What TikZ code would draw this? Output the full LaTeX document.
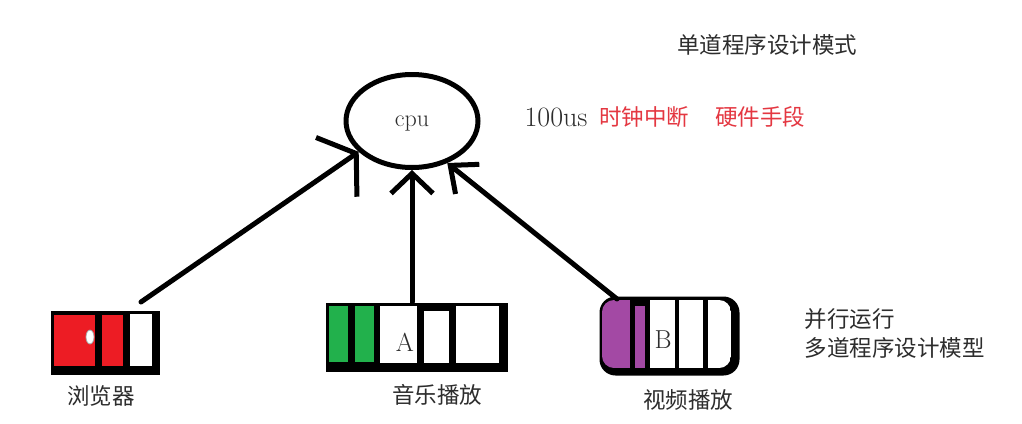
\documentclass[tikz,border=0pt]{standalone}
\usepackage{fontspec}
\newfontfamily\cjk{Noto Sans CJK SC}
\usetikzlibrary{shapes.geometric,arrows.meta}
\definecolor{cellred}{RGB}{237,28,36}
\definecolor{cellgreen}{RGB}{34,177,76}
\definecolor{cellpurple}{RGB}{163,73,164}
\definecolor{notered}{RGB}{228,55,65}
\definecolor{txtgray}{RGB}{45,45,45}

\begin{document}
\begin{tikzpicture}[
    x=1pt, y=-1pt,
    line width=5pt, line cap=round, line join=round,
    zh/.style={font=\cjk\fontsize{22.5}{26}\selectfont, text=txtgray, inner sep=0pt},
    en/.style={font=\fontsize{26}{30}\selectfont, text=txtgray, inner sep=0pt},
    procbox/.style={fill=black, rectangle, inner sep=0pt, anchor=north west},
    feed/.style={-{Straight Barb[length=20pt,width=42pt]}},
]
  \useasboundingbox[fill=white] (0,0) rectangle (1022,423);

  % cpu
  \node[draw, ellipse, minimum width=132pt, minimum height=93pt, inner sep=0pt] (cpu) at (412,121) {};
  \node[en, font=\fontsize{24}{28}\selectfont] (cpulbl) at (412,124) {cpu};

  % browser
  \node[procbox, minimum width=109pt, minimum height=64pt] (browser) at (48,308) {};
  \fill[cellred] (54,315) rectangle (95,366);
  \fill[cellred] (102,315) rectangle (123,366);
  \fill[white] (130,314) rectangle (152,366);
  \filldraw[white, draw=gray!70, line width=0.8pt] (90,337) ellipse [x radius=4, y radius=7];

  % music
  \node[procbox, minimum width=182pt, minimum height=69pt] (music) at (323,300) {};
  \fill[cellgreen] (329,306) rectangle (348,362);
  \fill[cellgreen] (355,306) rectangle (374,362);
  \fill[white] (380,306) rectangle (417,363);
  \fill[white] (424,311) rectangle (449,363);
  \fill[white] (456,306) rectangle (499,363);
  \node[en] (lblA) at (405,342) {A};

  % video
  \node[procbox, rounded corners=16pt, minimum width=140pt, minimum height=79pt] (video) at (597,294) {};
  \begin{scope}
    \clip[rounded corners=12pt] (602,300) rectangle (731,368);
    \fill[cellpurple] (602,300) rectangle (630,368);
    \fill[cellpurple] (635,306) rectangle (645,368);
    \fill[white] (650,300) rectangle (675,368);
    \fill[white] (679,300) rectangle (703,368);
    \fill[white] (708,300) rectangle (731,368);
  \end{scope}
  \node[en] (lblB) at (663,340) {B};

  % arrows into cpu
  \draw[feed, -{Straight Barb[length=24pt,width=72pt]}] ([xshift=-21pt,yshift=6pt]browser.north east) -- (cpu.210);
  \draw[feed] ([yshift=-2pt]music.north -| cpu.south) -- (cpu.south);
  \draw[feed, -{Straight Barb[length=22pt,width=38pt]}] ([xshift=20pt,yshift=-5pt]video.north west) -- (cpu.310);

  % texts
  \node[zh] (title) at (767,45) {单道程序设计模式};
  \node[en, font=\fontsize{28}{32}\selectfont] (period) at (556,117) {100us};
  \node[zh, text=notered] (clockirq) at (644,117) {时钟中断};
  \node[zh, text=notered] (hwmeans) at (760,117) {硬件手段};
  \node[zh, anchor=west] (parallel) at (802,319) {并行运行};
  \node[zh, anchor=west] (multimode) at (802,348) {多道程序设计模型};
  \node[zh] (lblbrowser) at (101,396) {浏览器};
  \node[zh] (lblmusic) at (437,395) {音乐播放};
  \node[zh] (lblvideo) at (688,400) {视频播放};
\end{tikzpicture}
\end{document}
